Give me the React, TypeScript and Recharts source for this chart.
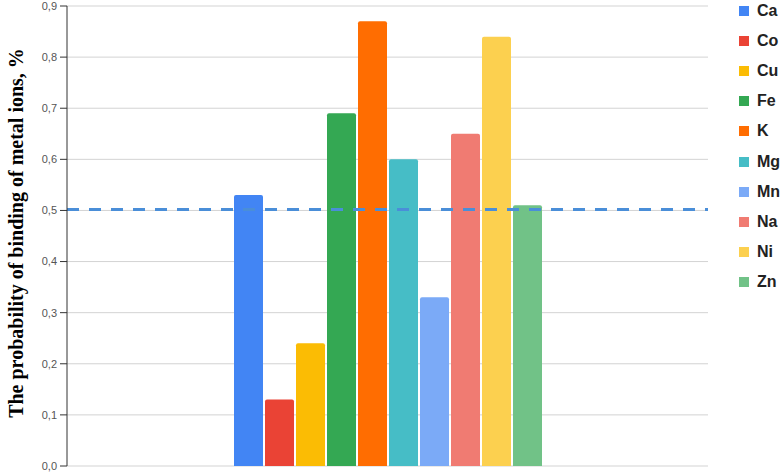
import React from 'react';
import { BarChart, Bar, XAxis, YAxis, CartesianGrid, ReferenceLine, Label } from 'recharts';

const metals = ['Ca', 'Co', 'Cu', 'Fe', 'K', 'Mg', 'Mn', 'Na', 'Ni', 'Zn'];
const bindingProbability = [0.53, 0.13, 0.24, 0.69, 0.87, 0.6, 0.33, 0.65, 0.84, 0.51];
const metalColors = ['#4285F4', '#EA4335', '#FBBC04', '#34A853', '#FF6D01', '#46BDC6', '#7BAAF7', '#F07B72', '#FCD04F', '#71C287'];
const yTicks = [0, 0.1, 0.2, 0.3, 0.4, 0.5, 0.6, 0.7, 0.8, 0.9];
const threshold = 0.502;

const row: Record<string, number | string> = { name: 'ions' };
metals.forEach((m, i) => {
  row[m] = bindingProbability[i];
});
const data = [row];

const fmt = (v: number) => v.toFixed(1).replace('.', ',');

function AxisTitle(props: any) {
  const vb = props.viewBox || {};
  const cy = vb.y + vb.height / 2 - 3;
  const cx = 16;
  return (
    <text
      x={cx}
      y={cy}
      transform={`rotate(-90 ${cx} ${cy})`}
      textAnchor="middle"
      dominantBaseline="central"
      style={{ fontFamily: '"Liberation Serif", "Times New Roman", serif', fontWeight: 'bold', fontSize: 20, fill: '#000' }}
    >
      The probability of binding of metal ions, %
    </text>
  );
}

export default function App() {
  return (
    <div style={{ position: 'absolute', left: 0, top: 0, width: 784, height: 474, background: '#fff' }}>
      <BarChart
        width={784}
        height={474}
        data={data}
        margin={{ top: 6, right: 76, bottom: 8, left: 0 }}
        barGap={2}
      >
        <CartesianGrid vertical={false} stroke="#d3d3d3" />
        <XAxis dataKey="name" tick={false} height={0} axisLine={{ stroke: '#333' }} tickLine={false} />
        <YAxis
          width={67}
          domain={[0, 0.9]}
          ticks={yTicks}
          tickFormatter={fmt}
          interval={0}
          axisLine={{ stroke: '#333' }}
          tickLine={{ stroke: '#333' }}
          tickSize={7}
          tickMargin={3}
          tick={{ fill: '#555', fontSize: 11, fontFamily: '"Liberation Sans", Arial, sans-serif' }}
        >
          <Label content={<AxisTitle />} />
        </YAxis>
        {metals.map((m, i) => (
          <Bar
            key={m}
            dataKey={m}
            fill={metalColors[i]}
            barSize={29}
            radius={[2, 2, 0, 0]}
            isAnimationActive={false}
          />
        ))}
        <ReferenceLine y={threshold} stroke="#4A8ED8" strokeWidth={3} strokeDasharray="12 10" />
      </BarChart>
      <div style={{ position: 'absolute', left: 739, top: 0 }}>
        {metals.map((m, i) => (
          <div
            key={m}
            style={{
              position: 'absolute',
              left: 0,
              top: 11 + i * 30.1 - 10,
              height: 20,
              display: 'flex',
              alignItems: 'center',
              whiteSpace: 'nowrap',
            }}
          >
            <span style={{ display: 'inline-block', width: 10, height: 10, background: metalColors[i], marginRight: 8 }} />
            <span style={{ fontFamily: '"Liberation Sans", Arial, sans-serif', fontWeight: 'bold', fontSize: 16, color: '#222' }}>{m}</span>
          </div>
        ))}
      </div>
    </div>
  );
}
